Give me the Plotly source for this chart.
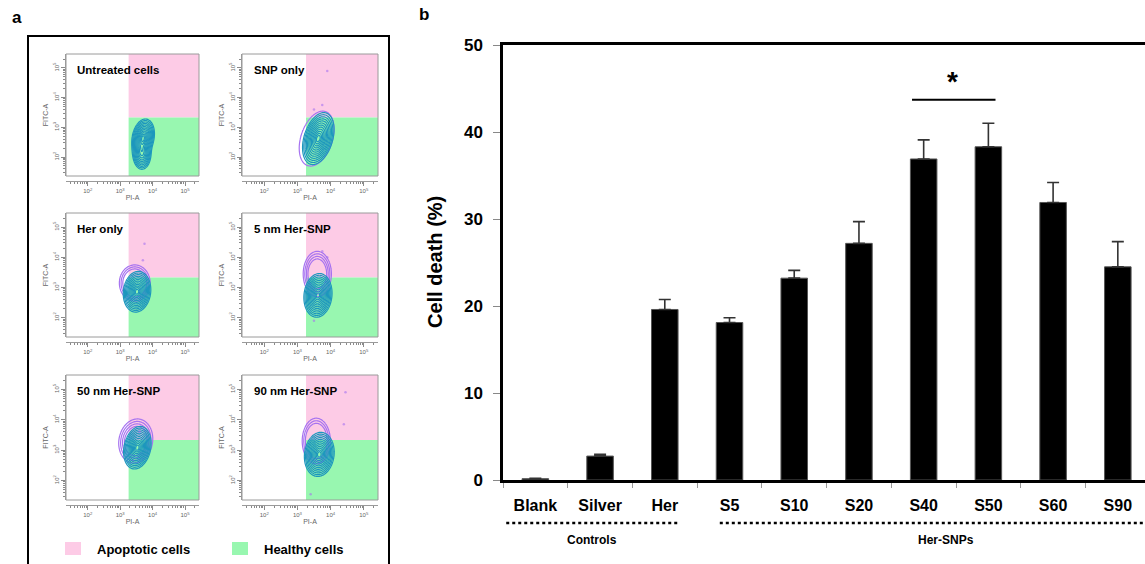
import numpy as np
import plotly.graph_objects as go

W, H = 1145, 564
FONT = "Liberation Sans, Arial, sans-serif"

# ---------------- panel b : cell death bar chart ----------------
groups = ["Blank", "Silver", "Her", "S5", "S10", "S20", "S40", "S50", "S60", "S90"]
cell_death = [0.15, 2.75, 19.6, 18.1, 23.2, 27.2, 36.9, 38.3, 31.9, 24.5]
cell_death_err = [0.05, 0.2, 1.15, 0.55, 0.9, 2.5, 2.2, 2.7, 2.3, 2.9]
death_ticks = [0, 10, 20, 30, 40, 50]
sig_level = 43.7
group_names = ["Controls", "Her-SNPs"]

# ---------------- panel a : annexin / PI contour plots ----------------
panel_titles = ["Untreated cells", "SNP only", "Her only",
                "5 nm Her-SNP", "50 nm Her-SNP", "90 nm Her-SNP"]
pi_range = [1.33, 5.43]      # log10 PI-A
fitc_range = [1.36, 5.47]    # log10 FITC-A
gate_pi = 3.26
gate_fitc = 3.33
decades = [2, 3, 4, 5]

# populations: (log PI centre, log FITC centre, sd PI, sd FITC, correlation, weight)
live_pops = [
    [(3.71, 2.66, 0.14, 0.25, 0.2, 1.0), (3.67, 2.12, 0.12, 0.23, 0.0, 0.55)],
    [(3.63, 2.62, 0.19, 0.35, 0.35, 1.0)],
    [(3.52, 2.86, 0.17, 0.27, 0.1, 1.0)],
    [(3.62, 2.74, 0.17, 0.29, 0.1, 1.0)],
    [(3.53, 3.08, 0.17, 0.28, 0.2, 1.0)],
    [(3.66, 2.86, 0.18, 0.29, 0.1, 1.0)],
]
apop_pops = [
    [],
    [(3.58, 2.62, 0.21, 0.37, 0.35, 1.0)],
    [(3.45, 3.15, 0.19, 0.24, 0.0, 1.0)],
    [(3.60, 3.45, 0.17, 0.30, 0.0, 1.0)],
    [(3.48, 3.30, 0.21, 0.29, 0.1, 1.0)],
    [(3.57, 3.30, 0.17, 0.30, 0.0, 1.0)],
]
apop_rings = [0, 1, 3, 4, 4, 3]
# isolated events outside the main contours (log PI, log FITC)
stray_pi = [[], [3.9, 3.5, 3.75], [3.75, 3.7], [3.75, 3.9, 3.5], [3.6], [4.45, 4.4, 3.4]]
stray_fitc = [[], [4.9, 3.6, 3.75], [4.45, 3.9], [4.2, 4.0, 1.9], [3.6], [4.9, 3.85, 1.55]]

PINK = "#fdcbe6"
GREEN = "#98f7b0"
TEAL = "#1d97bd"
VIOLET = "#a673f0"


def px(x):
    return x / W


def py(y):
    return 1 - y / H


def axis_ids(n):
    s = "" if n == 1 else str(n)
    return f"x{s}", f"y{s}", f"xaxis{s}", f"yaxis{s}"


def density_radius(pops, gx, gy):
    X, Y = np.meshgrid(gx, gy)
    p = np.zeros_like(X)
    for cx, cy, sx, sy, rho, w in pops:
        dx = (X - cx) / sx
        dy = (Y - cy) / sy
        q = (dx ** 2 - 2 * rho * dx * dy + dy ** 2) / (1 - rho ** 2)
        p += w * np.exp(-0.5 * q) / (sx * sy * np.sqrt(1 - rho ** 2))
    p = np.maximum(p / p.max(), 1e-12)
    return np.sqrt(-2 * np.log(p))


fig = go.Figure()
layout = dict(
    width=W, height=H, margin=dict(l=0, r=0, t=0, b=0),
    template="none", plot_bgcolor="rgba(0,0,0,0)", paper_bgcolor="white",
    showlegend=False, font=dict(family=FONT, color="black"),
)
shapes = []
annotations = []

col_px = [(66, 199), (242, 378)]
row_px = [(54, 176), (213, 337), (375, 500)]

gx = np.linspace(pi_range[0], pi_range[1], 200)
gy = np.linspace(fitc_range[0], fitc_range[1], 200)
minor_vals = [np.log10(k * 10.0 ** d) for d in range(1, 6) for k in range(2, 10)]
minor_x = [v for v in minor_vals if pi_range[0] < v < pi_range[1]]
minor_y = [v for v in minor_vals if fitc_range[0] < v < fitc_range[1]]
dec_text = [f"10<sup>{d}</sup>" for d in decades]

for i, title in enumerate(panel_titles):
    r, c = divmod(i, 2)
    xa, ya, xkey, ykey = axis_ids(i + 1)
    x0p, x1p = col_px[c]
    y0p, y1p = row_px[r]

    layout[xkey] = dict(
        domain=[px(x0p), px(x1p)], range=pi_range, anchor="free",
        position=py(y1p + 5), showgrid=False, zeroline=False,
        showline=True, linecolor="#9a9a9a", linewidth=1,
        tickmode="array", tickvals=decades, ticktext=dec_text,
        ticks="outside", ticklen=4, tickcolor="#8a8a8a",
        tickfont=dict(size=6, color="#666"),
        minor=dict(tickvals=minor_x, ticks="outside", ticklen=2, tickcolor="#8a8a8a"),
        title=dict(text="PI-A", font=dict(size=7, color="#666"), standoff=1),
    )
    layout[ykey] = dict(
        domain=[py(y1p), py(y0p)], range=fitc_range, anchor=xa,
        showgrid=False, zeroline=False,
        showline=True, linecolor="#9a9a9a", linewidth=1,
        tickmode="array", tickvals=decades, ticktext=dec_text, tickangle=-90,
        ticks="outside", ticklen=4, tickcolor="#8a8a8a",
        tickfont=dict(size=6, color="#666"),
        minor=dict(tickvals=minor_y, ticks="outside", ticklen=2, tickcolor="#8a8a8a"),
        title=dict(text="FITC-A", font=dict(size=7, color="#666"), standoff=2),
    )

    # quadrant gates
    shapes.append(dict(type="rect", xref=xa, yref=ya, x0=gate_pi, x1=pi_range[1],
                       y0=gate_fitc, y1=fitc_range[1], fillcolor=PINK,
                       line=dict(width=0), layer="below"))
    shapes.append(dict(type="rect", xref=xa, yref=ya, x0=gate_pi, x1=pi_range[1],
                       y0=fitc_range[0], y1=gate_fitc, fillcolor=GREEN,
                       line=dict(width=0), layer="below"))
    shapes.append(dict(type="rect", xref=f"{xa} domain", yref=f"{ya} domain",
                       x0=0, x1=1, y0=0, y1=1, line=dict(color="#9a9a9a", width=1)))

    if apop_pops[i]:
        zr = density_radius(apop_pops[i], gx, gy)
        k = apop_rings[i]
        fig.add_trace(go.Contour(
            x=gx, y=gy, z=zr, xaxis=xa, yaxis=ya, showscale=False,
            contours=dict(coloring="lines", start=2.5 - 0.28 * (k - 1), end=2.5, size=0.28),
            colorscale=[[0, VIOLET], [1, VIOLET]], line=dict(width=1.2, smoothing=1),
            hoverinfo="skip"))
    zl = density_radius(live_pops[i], gx, gy)
    fig.add_trace(go.Contour(
        x=gx, y=gy, z=zl, xaxis=xa, yaxis=ya, showscale=False,
        contours=dict(coloring="lines", start=0.3, end=2.5, size=0.2),
        colorscale=[[0, TEAL], [1, TEAL]], line=dict(width=1.2, smoothing=1),
        hoverinfo="skip"))
    if stray_pi[i]:
        fig.add_trace(go.Scatter(
            x=stray_pi[i], y=stray_fitc[i], xaxis=xa, yaxis=ya, mode="markers",
            marker=dict(size=2.5, color=VIOLET, opacity=0.6), hoverinfo="skip"))

    annotations.append(dict(text=f"<b>{title}</b>", xref=f"{xa} domain", yref=f"{ya} domain",
                            x=0.07, y=0.87, xanchor="left", yanchor="middle",
                            showarrow=False, font=dict(size=11.5, color="black")))

# outer frame of panel a and its legend
shapes.append(dict(type="rect", xref="paper", yref="paper", x0=px(28), x1=px(389),
                   y0=-0.05, y1=py(36), line=dict(color="black", width=2)))
for (sx0, label, colr, tx) in [(65, "Apoptotic cells", PINK, 95), (232, "Healthy cells", GREEN, 262)]:
    shapes.append(dict(type="rect", xref="paper", yref="paper", x0=px(sx0), x1=px(sx0 + 16),
                       y0=py(555), y1=py(542), fillcolor=colr, line=dict(width=0)))
    annotations.append(dict(text=f"<b>{label}</b>", xref="paper", yref="paper", x=px(tx), y=py(549),
                            xanchor="left", yanchor="middle", showarrow=False,
                            font=dict(size=13, color="black")))

# ---------------- bar chart axes ----------------
xb, yb, xbkey, ybkey = axis_ids(7)
layout[xbkey] = dict(
    domain=[px(503), 1.0], anchor=yb, type="category",
    categoryorder="array", categoryarray=groups, range=[-0.5, 9.42],
    showgrid=False, zeroline=False, showline=True, linecolor="black", linewidth=2.5,
    mirror=True, tickson="boundaries", ticks="outside", ticklen=5, tickcolor="#999",
    tickfont=dict(size=16, color="black", weight="bold"), ticklabelstandoff=9,
)
layout[ybkey] = dict(
    domain=[py(480), py(45)], anchor=xb, range=[0, 50], tickvals=death_ticks,
    showgrid=False, zeroline=False, showline=True, linecolor="black", linewidth=2.5,
    ticks="outside", ticklen=7, tickcolor="#888",
    tickfont=dict(size=17, color="black", weight="bold"), ticklabelstandoff=7,
)

fig.add_trace(go.Bar(
    x=groups, y=cell_death, xaxis=xb, yaxis=yb, width=0.41,
    marker=dict(color="black", line=dict(color="#555", width=1)),
    error_y=dict(type="data", symmetric=False, array=cell_death_err,
                 arrayminus=[0] * len(groups), color="#333", thickness=1.6, width=6),
    hoverinfo="skip"))

# significance bracket between S40 and S50
i40, i50 = groups.index("S40"), groups.index("S50")
shapes.append(dict(type="line", xref=xb, yref=yb, x0=i40 - 0.18, x1=i50 + 0.11,
                   y0=sig_level, y1=sig_level, line=dict(color="black", width=2)))
annotations.append(dict(text="<b>*</b>", xref=xb, yref=yb, x=(i40 + i50) / 2 - 0.06,
                        y=sig_level + 2.1, xanchor="center", yanchor="middle",
                        showarrow=False, font=dict(size=28, color="black")))

# group brackets under the category labels
spans = [(-0.45, groups.index("Her") + 0.2), (groups.index("S5") - 0.15, 9.42)]
for name, (a, b) in zip(group_names, spans):
    shapes.append(dict(type="line", xref=xb, yref="paper", x0=a, x1=b,
                       y0=py(523), y1=py(523), line=dict(color="black", width=2.5, dash="dot")))
    mid = (a + b) / 2 if name == "Controls" else 6.35
    annotations.append(dict(text=f"<b>{name}</b>", xref=xb, yref="paper", x=mid, y=py(540),
                            xanchor="center", yanchor="middle", showarrow=False,
                            font=dict(size=12, color="black")))

annotations.append(dict(text="<b>Cell death (%)</b>", xref="paper", yref="paper",
                        x=px(435), y=py(262), textangle=-90, showarrow=False,
                        xanchor="center", yanchor="middle", font=dict(size=20, color="black")))

# panel letters
annotations.append(dict(text="<b>a</b>", xref="paper", yref="paper", x=px(10), y=py(17),
                        xanchor="left", yanchor="middle", showarrow=False,
                        font=dict(size=17, color="black")))
annotations.append(dict(text="<b>b</b>", xref="paper", yref="paper", x=px(417), y=py(15),
                        xanchor="left", yanchor="middle", showarrow=False,
                        font=dict(size=17, color="black")))

layout["shapes"] = shapes
layout["annotations"] = annotations
fig.update_layout(**layout)
fig.write_html("out.html")
